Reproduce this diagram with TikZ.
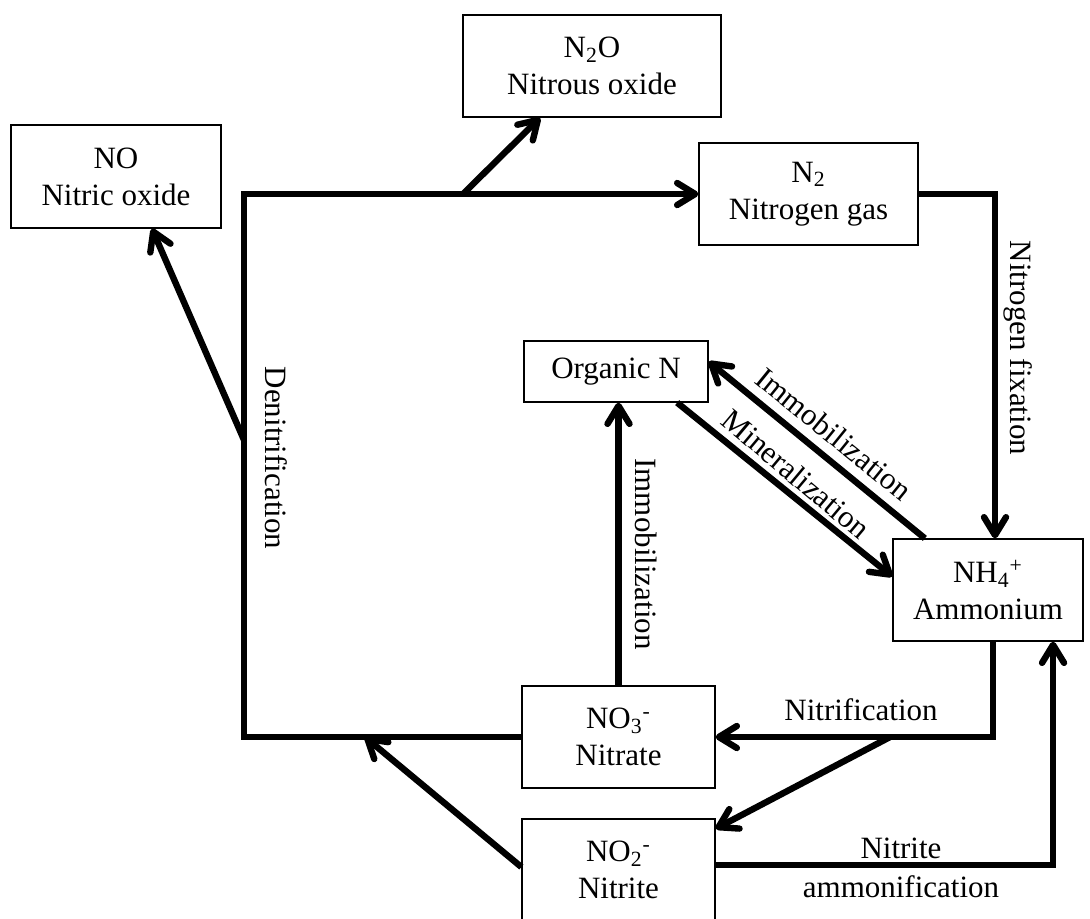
\documentclass[tikz,border=0pt]{standalone}
\usepackage{fontspec}
\setmainfont{Liberation Serif}
\usetikzlibrary{arrows.meta,calc}
\begin{document}
\begin{tikzpicture}[x=0.5pt,y=-0.5pt,
  box/.style={draw, line width=0.65pt, inner sep=0pt, align=center, font=\fontsize{15.5}{18.5}\selectfont},
  flow/.style={line width=3.2pt},
  arr/.style={flow, -{Straight Barb[length=9pt,width=11pt,round]}},
  lbl/.style={font=\fontsize{15.5}{18.5}\selectfont, inner sep=0pt}]
\path[use as bounding box] (0,0) rectangle (1090,918);

\node[box, minimum width=105pt, minimum height=51.5pt] (NO) at (116,176.5) {NO\\Nitric oxide};
\node[box, minimum width=129pt, minimum height=51pt] (N2O) at (592,66) {N\textsubscript{2}O\\Nitrous oxide};
\node[box, minimum width=109.5pt, minimum height=51pt] (N2) at (808.5,194) {N\textsubscript{2}\\Nitrogen gas};
\node[box, minimum width=92pt, minimum height=30.5pt] (ORG) at (616,371.5) {Organic N};
\node[box, minimum width=95pt, minimum height=51pt] (NH4) at (988,590) {NH\textsubscript{4}\textsuperscript{+}\\Ammonium};
\node[box, minimum width=96.5pt, minimum height=51pt] (NO3) at (618.5,737) {NO\textsubscript{3}\textsuperscript{-}\\Nitrate};
\node[box, minimum width=96.5pt, minimum height=51pt] (NO2) at (618.5,870) {NO\textsubscript{2}\textsuperscript{-}\\Nitrite};

\coordinate (dl) at (244,737);
\coordinate (dt) at (244,194);
\draw[arr] (NO3.west) -- (dl) -- (dt) -- (N2.west);
\coordinate (b1) at (463,194);
\draw[arr] (b1) -- ($(N2O.south west)!0.3!(N2O.south east)$);
\coordinate (b2) at (244,440);
\draw[arr] (b2) -- ($(NO.south west)!0.67!(NO.south east)$);
\draw[arr] (N2.east) -| ([xshift=3.5pt]NH4.north);
\draw[arr] (NO3.north) -- (NO3.north |- ORG.south);
\draw[arr] ($(ORG.south west)!0.83!(ORG.south east)$) -- ($(NH4.north west)!0.37!(NH4.south west)$);
\draw[arr] ($(NH4.north west)!0.17!(NH4.north east)$) -- ($(ORG.north east)!0.34!(ORG.south east)$);
\draw[arr] ([xshift=2.5pt]NH4.south) |- (NO3.east);
\coordinate (br) at (890,737);
\draw[arr] (br) -- ($(NO2.north east)!0.1!(NO2.south east)$);
\draw[arr] ([yshift=2.5pt]NO2.east) -| ($(NH4.south west)!0.84!(NH4.south east)$);
\coordinate (b3) at (365,737);
\draw[arr] ([yshift=1.5pt]NO2.west) -- (b3);

\node[lbl, rotate=-90] (lden) at (276,458) {Denitrification};
\node[lbl, rotate=-90] (lfix) at (1018,348) {Nitrogen fixation};
\node[lbl, rotate=-90] (limm1) at (646,554) {Immobilization};
\node[lbl, rotate=-39] (limm2) at (834,434) {Immobilization};
\node[lbl, rotate=-40] (lmin) at (796,474) {Mineralization};
\node[lbl, anchor=base] (lnit) at (861,720) {Nitrification};
\node[lbl, anchor=base] (lnt) at (901,858) {Nitrite};
\node[lbl, anchor=base] (lamm) at (901,897) {ammonification};
\end{tikzpicture}
\end{document}
